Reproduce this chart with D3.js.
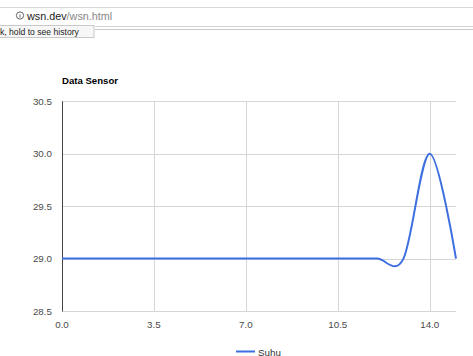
<!DOCTYPE html>
<html>
<head>
<meta charset="utf-8">
<script src="https://cdn.jsdelivr.net/npm/d3@7"></script>
<style>
  html, body { margin: 0; padding: 0; background: #fff; }
  svg { display: block; font-family: Arial, "Liberation Sans", sans-serif; }
</style>
</head>
<body>
<svg id="c" width="473" height="356"></svg>
<script>
// ---- data ----
const xValues = [0, 1, 2, 3, 4, 5, 6, 7, 8, 9, 10, 11, 12, 13, 14, 15];
const suhu    = [29, 29, 29, 29, 29, 29, 29, 29, 29, 29, 29, 29, 29, 29, 30, 29];
const xTicks  = [0, 3.5, 7, 10.5, 14];
const yTicks  = [28.5, 29.0, 29.5, 30.0, 30.5];
const title   = "Data Sensor";
const seriesName = "Suhu";

const svg = d3.select("#c");

// ---- browser chrome fragment ----
svg.append("line").attr("x1", 0).attr("x2", 473).attr("y1", 7.5).attr("y2", 7.5)
  .attr("stroke", "#d8d8d8").attr("stroke-width", 1);
svg.append("line").attr("x1", 95).attr("x2", 473).attr("y1", 26.5).attr("y2", 26.5)
  .attr("stroke", "#d4d4d4").attr("stroke-width", 1);
svg.append("line").attr("x1", 95).attr("x2", 473).attr("y1", 29.5).attr("y2", 29.5)
  .attr("stroke", "#c8c8c8").attr("stroke-width", 1);
svg.append("circle").attr("cx", 20).attr("cy", 15.5).attr("r", 3.6)
  .attr("fill", "none").attr("stroke", "#555").attr("stroke-width", 0.9);
svg.append("line").attr("x1", 20).attr("x2", 20).attr("y1", 14.5).attr("y2", 17.5)
  .attr("stroke", "#555").attr("stroke-width", 0.9);
const url = svg.append("text").attr("x", 27).attr("y", 19.5).attr("font-size", 10.8);
url.append("tspan").attr("fill", "#222").attr("font-weight", 500).text("wsn.dev");
url.append("tspan").attr("fill", "#888").text("/wsn.html");
svg.append("rect").attr("x", -2).attr("y", 25.5).attr("width", 96).attr("height", 12)
  .attr("fill", "#f7f7f7").attr("stroke", "#bbb").attr("stroke-width", 0.8);
svg.append("text").attr("x", 0).attr("y", 34.5).attr("font-size", 8.6)
  .attr("fill", "#222").text("k, hold to see history");

// ---- chart ----
const x = d3.scaleLinear().domain([0, 15]).range([62, 456]);
const y = d3.scaleLinear().domain([28.5, 30.5]).range([311, 101.3]);

// gridlines
svg.append("g").selectAll("line").data(yTicks).join("line")
  .attr("x1", x(0)).attr("x2", x(15))
  .attr("y1", d => Math.round(y(d)) + 0.5).attr("y2", d => Math.round(y(d)) + 0.5)
  .attr("stroke", "#d6d6d6").attr("stroke-width", 1);
svg.append("g").selectAll("line").data(xTicks.filter(d => d !== 0)).join("line")
  .attr("x1", d => Math.round(x(d)) + 0.5).attr("x2", d => Math.round(x(d)) + 0.5)
  .attr("y1", y(30.5)).attr("y2", y(28.5))
  .attr("stroke", "#d6d6d6").attr("stroke-width", 1);

// baseline at x = 0
svg.append("line")
  .attr("x1", Math.round(x(0)) + 0.5).attr("x2", Math.round(x(0)) + 0.5)
  .attr("y1", y(30.5)).attr("y2", y(28.5) + 0.5)
  .attr("stroke", "#444").attr("stroke-width", 1);

// y tick labels
svg.append("g").selectAll("text").data(yTicks).join("text")
  .attr("x", 52).attr("y", d => y(d)).attr("dy", "0.36em")
  .attr("text-anchor", "end").attr("font-size", 9.8).attr("fill", "#4a4a4a")
  .text(d => d3.format(".1f")(d));

// x tick labels
svg.append("g").selectAll("text").data(xTicks).join("text")
  .attr("x", d => x(d)).attr("y", 327.5)
  .attr("text-anchor", "middle").attr("font-size", 9.8).attr("fill", "#4a4a4a")
  .text(d => d3.format(".1f")(d));

// title
svg.append("text").attr("x", 62).attr("y", 84).attr("font-size", 9.6)
  .attr("font-weight", "bold").attr("fill", "#000").text(title);

// series line
const line = d3.line()
  .x((d, i) => x(xValues[i]))
  .y(d => y(d))
  .curve(d3.curveCatmullRom.alpha(0));
svg.append("path").datum(suhu)
  .attr("d", line)
  .attr("fill", "none").attr("stroke", "#3d6fe0").attr("stroke-width", 2);

// legend
svg.append("line").attr("x1", 236).attr("x2", 255).attr("y1", 351.5).attr("y2", 351.5)
  .attr("stroke", "#3d6fe0").attr("stroke-width", 2);
svg.append("text").attr("x", 258).attr("y", 355.5).attr("font-size", 9.8)
  .attr("fill", "#333").text(seriesName);
</script>
</body>
</html>
